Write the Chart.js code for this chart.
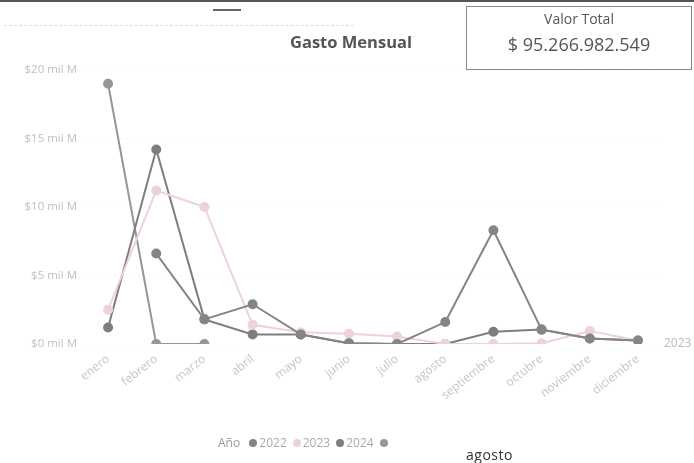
<!DOCTYPE html>
<html lang="es">
<head>
  <meta charset="UTF-8">
  <title>Gasto Mensual</title>
  <script src="https://cdn.jsdelivr.net/npm/chart.js"></script>
  <style>
    body {
      margin: 0;
      padding: 0;
      background-color: #fff;
      font-family: "Open Sans", "DejaVu Sans", sans-serif;
    }

    .page {
      position: relative;
      width: 694px;
      height: 463px;
      overflow: hidden;
      border-top: 2px solid #555;
      box-sizing: border-box;
    }

    #gastoChart {
      position: absolute;
      left: 0;
      top: 0;
    }

    .dash {
      position: absolute;
      left: 213px;
      top: 7px;
      width: 28px;
      border-top: 2px solid #666;
    }

    .topline {
      position: absolute;
      left: 4px;
      top: 23px;
      width: 350px;
      border-top: 1px dashed #ddd;
    }

    .titulo {
      position: absolute;
      left: 290px;
      top: 28px;
      font-size: 16.5px;
      font-weight: bold;
      color: #555;
    }

    .tarjeta {
      position: absolute;
      left: 466px;
      top: 4px;
      width: 224px;
      height: 62px;
      border: 1px solid #888;
      text-align: center;
      color: #555;
    }

    .tarjeta .etiqueta {
      font-size: 14px;
      margin-top: 2px;
    }

    .tarjeta .valor {
      font-size: 18px;
      margin-top: 4px;
    }

    .leyenda {
      position: absolute;
      left: 218px;
      top: 432px;
      font-size: 12px;
      color: #aaa;
      white-space: nowrap;
    }

    .leyenda span {
      margin-right: 6px;
    }

    .leyenda i {
      display: inline-block;
      width: 8px;
      height: 8px;
      border-radius: 50%;
      margin-right: 2px;
    }

    .mes {
      position: absolute;
      left: 466px;
      top: 443px;
      font-size: 14px;
      color: #333;
      letter-spacing: 0.5px;
    }

    .fin {
      position: absolute;
      left: 664px;
      top: 332px;
      font-size: 12px;
      color: #bbb;
    }
  </style>
</head>
<body>

  <div class="page">
    <canvas id="gastoChart" width="694" height="463"></canvas>
    <div class="dash"></div>
    <div class="topline"></div>
    <div class="titulo">Gasto Mensual</div>
    <div class="tarjeta">
      <div class="etiqueta">Valor Total</div>
      <div class="valor">$ 95.266.982.549</div>
    </div>
    <div class="leyenda" id="leyenda"></div>
    <div class="mes">agosto</div>
    <div class="fin">2023</div>
  </div>

  <script>
    // Datos (miles de millones)
    var meses = ['enero', 'febrero', 'marzo', 'abril', 'mayo', 'junio', 'julio',
      'agosto', 'septiembre', 'octubre', 'noviembre', 'diciembre'];
    var anios = ['2022', '2023', '2024', ''];
    var gasto2022 = [null, 6.6, 1.8, 2.9, 0.7, 0.05, 0.0, 1.6, 8.3, 1.05, 0.4, 0.25];
    var gasto2023 = [2.5, 11.2, 10.0, 1.4, 0.85, 0.75, 0.55, 0.0, 0.0, 0.05, 0.95, 0.25];
    var gasto2024 = [1.2, 14.2, 1.8, 0.7, 0.7, 0.05, 0.0, 0.0, 0.9, 1.05, 0.4, 0.25];
    var gastoOtro = [19.0, 0.0, 0.0, null, null, null, null, null, null, null, null, null];
    var etiquetasY = ['$0 mil M', '$5 mil M', '$10 mil M', '$15 mil M', '$20 mil M'];

    var colores = ['#858585', '#ecd3d7', '#7e7e7e', '#969696'];
    var series = [gasto2022, gasto2023, gasto2024, gastoOtro];

    var datasets = series.map(function (valores, i) {
      return {
        label: anios[i],
        data: valores,
        borderColor: colores[i],
        backgroundColor: colores[i],
        borderWidth: 2,
        pointRadius: 4,
        pointHoverRadius: 4,
        tension: 0
      };
    });

    var ctx = document.getElementById('gastoChart').getContext('2d');

    var gastoChart = new Chart(ctx, {
      type: 'line',
      data: {
        labels: meses,
        datasets: datasets
      },
      options: {
        responsive: false,
        animation: false,
        layout: {
          padding: { top: 68, right: 32, bottom: 0, left: 0 }
        },
        plugins: {
          legend: { display: false },
          tooltip: { enabled: false }
        },
        scales: {
          x: {
            offset: true,
            afterFit: function (scale) { scale.height = 121; },
            grid: { display: false },
            border: { display: false },
            ticks: {
              color: '#c4c4c4',
              font: { family: 'Open Sans', size: 12 },
              minRotation: 38,
              maxRotation: 38,
              padding: 0
            }
          },
          y: {
            min: 0,
            max: 20,
            afterFit: function (scale) { scale.width = 84; },
            grid: {
              color: '#eeeeee',
              drawTicks: false
            },
            border: { display: false, dash: [1, 5] },
            ticks: {
              stepSize: 5,
              color: '#c0c0c0',
              font: { family: 'Open Sans', size: 11.5 },
              padding: 7,
              callback: function (value) {
                return etiquetasY[value / 5];
              }
            }
          }
        }
      }
    });

    // Leyenda como en el informe original
    var leyenda = document.getElementById('leyenda');
    var html = '<span style="color:#999">Año</span> ';
    anios.forEach(function (anio, i) {
      html += '<span><i style="background:' + colores[i] + '"></i>' + anio + '</span>';
    });
    leyenda.innerHTML = html;
  </script>

</body>
</html>
